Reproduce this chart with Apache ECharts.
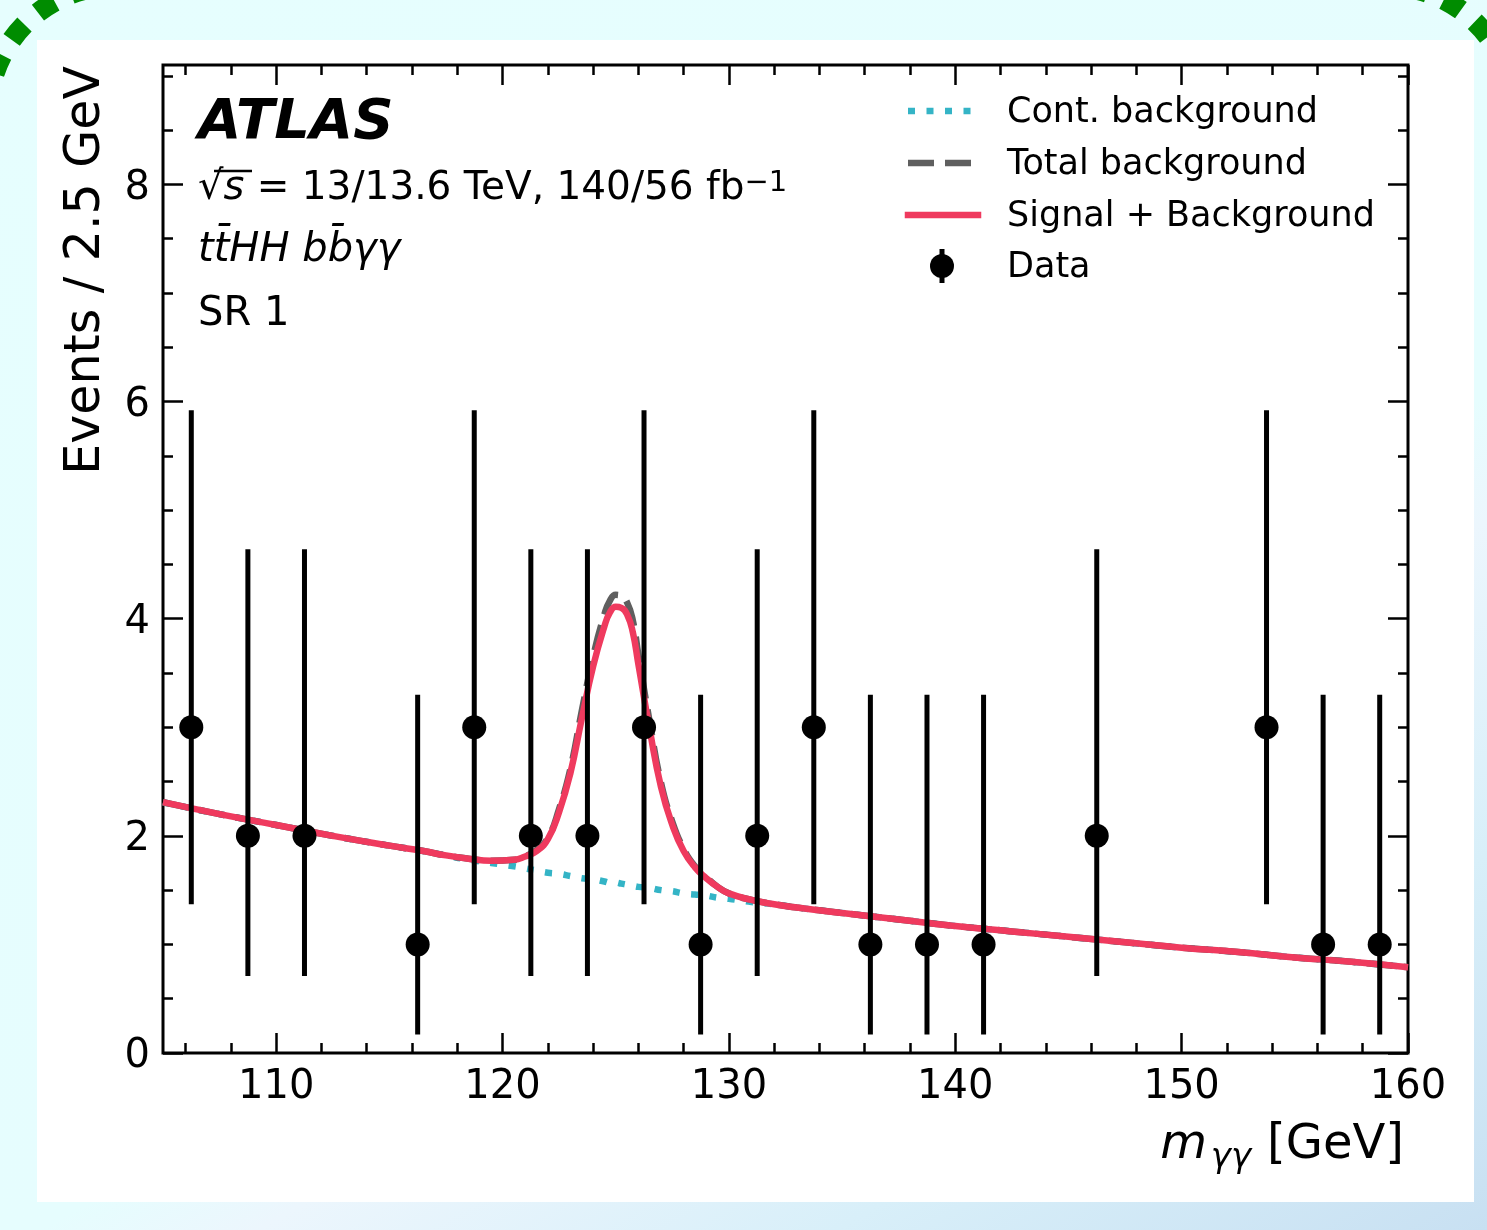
<!DOCTYPE html>
<html>
<head>
<meta charset="utf-8">
<title>ttHH bbγγ — SR 1 diphoton mass</title>
<script src="https://cdn.jsdelivr.net/npm/echarts@6/dist/echarts.min.js"></script>
<style>
  html, body { margin: 0; padding: 0; }
  body {
    width: 1487px; height: 1230px; overflow: hidden; position: relative;
    background: linear-gradient(150deg, #e6fefe 0%, #e6fdfe 60%, #ecf6fd 66%, #d8eff9 82%, #c8e0f2 100%);
  }
  #frame { position: absolute; left: 0; top: 0; width: 1487px; height: 1230px; }
  #panel { position: absolute; left: 37px; top: 40px; width: 1437px; height: 1162px; background: #ffffff; }
  #chart { position: absolute; left: 0; top: 0; width: 1487px; height: 1230px; }
</style>
</head>
<body>
<svg id="frame" width="1487" height="1230">
  <rect x="-12" y="-14" width="1526" height="1400" rx="128" ry="128"
        fill="none" stroke="#008c00" stroke-width="20" stroke-dasharray="20 18"/>
</svg>
<div id="panel"></div>
<div id="chart"></div>
<script>
// Axis ranges and ticks
const xRange = [105, 160];
const yRange = [0, 9.1];
const xMajorTicks = [110, 120, 130, 140, 150, 160];
const xMinorTicks = [106, 108, 112, 114, 116, 118, 122, 124, 126, 128, 132, 134, 136, 138, 142, 144, 146, 148, 152, 154, 156, 158];
const yMajorTicks = [0, 2, 4, 6, 8];
const yMinorTicks = [0.5, 1, 1.5, 2.5, 3, 3.5, 4.5, 5, 5.5, 6.5, 7, 7.5, 8.5, 9];

// Observed events per 2.5 GeV bin (empty bins omitted) with Poisson intervals
const binCenters = [106.25, 108.75, 111.25, 116.25, 118.75, 121.25, 123.75, 126.25, 128.75, 131.25, 133.75, 136.25, 138.75, 141.25, 146.25, 153.75, 156.25, 158.75];
const eventCounts = [3, 2, 2, 1, 3, 2, 2, 3, 1, 2, 3, 1, 1, 1, 2, 3, 1, 1];
const errLow  = [1.37, 0.71, 0.71, 0.17, 1.37, 0.71, 0.71, 1.37, 0.17, 0.71, 1.37, 0.17, 0.17, 0.17, 0.71, 1.37, 0.17, 0.17];
const errHigh = [5.92, 4.64, 4.64, 3.30, 5.92, 4.64, 4.64, 5.92, 3.30, 4.64, 5.92, 3.30, 3.30, 3.30, 4.64, 5.92, 3.30, 3.30];

// Fitted model curves sampled in m_γγ
const curveMass = [105, 107.5, 110, 112.5, 115, 116.5, 117.5, 118.5, 119.5, 120.5,
  121, 121.5, 122, 122.5, 123, 123.5, 124, 124.5, 124.75, 125,
  125.25, 125.5, 125.75, 126, 126.5, 127, 127.5, 128, 128.5, 129,
  129.5, 130, 131, 132, 133, 135, 137.5, 140, 142.5, 145,
  147.5, 150, 152.5, 155, 157.5, 160];
const contBkg = [2.31, 2.20, 2.10, 2.00, 1.91, 1.86, 1.82, 1.78, 1.75, 1.72,
  1.70, 1.68, 1.66, 1.65, 1.63, 1.61, 1.60, 1.58, 1.57, 1.57,
  1.56, 1.55, 1.54, 1.53, 1.52, 1.50, 1.49, 1.47, 1.46, 1.45,
  1.43, 1.42, 1.39, 1.37, 1.34, 1.29, 1.23, 1.17, 1.12, 1.07,
  1.02, 0.97, 0.93, 0.88, 0.84, 0.79];
const totalBkg = [2.31, 2.20, 2.10, 2.00, 1.91, 1.86, 1.82, 1.79, 1.77, 1.78,
  1.81, 1.87, 1.98, 2.25, 2.62, 3.15, 3.65, 4.04, 4.17, 4.22,
  4.21, 4.15, 3.99, 3.67, 3.05, 2.49, 2.13, 1.88, 1.72, 1.62,
  1.53, 1.47, 1.41, 1.37, 1.34, 1.29, 1.23, 1.17, 1.12, 1.07,
  1.02, 0.97, 0.93, 0.88, 0.84, 0.79];
const sigPlusBkg = [2.31, 2.20, 2.10, 2.00, 1.91, 1.86, 1.82, 1.79, 1.77, 1.78,
  1.81, 1.86, 1.97, 2.22, 2.58, 3.08, 3.56, 3.93, 4.06, 4.11,
  4.10, 4.04, 3.88, 3.58, 2.98, 2.45, 2.10, 1.86, 1.71, 1.61,
  1.53, 1.47, 1.41, 1.37, 1.34, 1.29, 1.23, 1.17, 1.12, 1.07,
  1.02, 0.97, 0.93, 0.88, 0.84, 0.79];

const legendNames = ['Cont. background', 'Total background', 'Signal + Background', 'Data'];

const FONT = 'DejaVu Sans';
const COL_CONT = '#34b4c6';
const COL_TOT = '#5f5f5f';
const COL_SIG = '#ef3a5e';

const pairs = (xs, ys) => xs.map((x, i) => [x, ys[i]]);

function makeXAxis(position, ticks, len, labels) {
  return {
    type: 'value', min: xRange[0], max: xRange[1], position: position,
    axisLine: { show: false, onZero: false },
    splitLine: { show: false },
    axisTick: { show: true, inside: true, length: len, customValues: ticks,
      lineStyle: { color: '#000', width: 2.5 } },
    axisLabel: labels ? { show: true, customValues: ticks, margin: 15,
      fontFamily: FONT, fontSize: 40, color: '#000' } : { show: false }
  };
}
function makeYAxis(position, ticks, len, labels) {
  return {
    type: 'value', min: yRange[0], max: yRange[1], position: position,
    axisLine: { show: false, onZero: false },
    splitLine: { show: false },
    axisTick: { show: true, inside: true, length: len, customValues: ticks,
      lineStyle: { color: '#000', width: 2.5 } },
    // short line box, top-anchored, nudges the digits slightly below the tick
    axisLabel: labels ? { show: true, customValues: ticks, margin: 13,
      fontFamily: FONT, fontSize: 40, color: '#000', verticalAlign: 'top', lineHeight: 8 } : { show: false }
  };
}

const chart = echarts.init(document.getElementById('chart'), null, { renderer: 'canvas' });

const legendRows = [111, 163, 215, 266];
const legendGraphics = [
  { type: 'line', shape: { x1: 908, y1: legendRows[0], x2: 978, y2: legendRows[0] },
    style: { stroke: COL_CONT, lineWidth: 6.5, lineDash: [7, 11.5] } },
  { type: 'line', shape: { x1: 908, y1: legendRows[1], x2: 978, y2: legendRows[1] },
    style: { stroke: COL_TOT, lineWidth: 6.5, lineDash: [26, 11] } },
  { type: 'line', shape: { x1: 908, y1: legendRows[2], x2: 978, y2: legendRows[2] },
    style: { stroke: COL_SIG, lineWidth: 6.5, lineCap: 'square' } },
  { type: 'line', shape: { x1: 942, y1: legendRows[3] - 17, x2: 942, y2: legendRows[3] + 17 },
    style: { stroke: '#000', lineWidth: 5 } },
  { type: 'circle', shape: { cx: 942, cy: legendRows[3], r: 12 }, style: { fill: '#000' } }
].concat(legendNames.map((name, i) => ({
  type: 'text', x: 1007, y: legendRows[i] + 2,
  style: { text: name, fontFamily: FONT, fontSize: 35, fill: '#000', align: 'left', verticalAlign: 'middle' }
})));

const labelGraphics = [
  { type: 'text', x: 198, y: 123,
    style: { text: 'ATLAS', fontFamily: FONT, fontSize: 56, fontWeight: 'bold', fontStyle: 'italic',
      fill: '#000', align: 'left', verticalAlign: 'middle' } },
  { type: 'text', x: 198, y: 189,
    style: {
      text: '{r|√}{s|s}{t| = 13/13.6 TeV, 140/56 fb}{sup|−1}',
      fill: '#000', align: 'left', verticalAlign: 'middle',
      rich: {
        r: { fontFamily: FONT, fontSize: 40, lineHeight: 40, verticalAlign: 'middle' },
        s: { fontFamily: FONT, fontSize: 40, fontStyle: 'italic', lineHeight: 40, verticalAlign: 'middle' },
        t: { fontFamily: FONT, fontSize: 39, lineHeight: 40, verticalAlign: 'middle' },
        sup: { fontFamily: FONT, fontSize: 29, lineHeight: 29, verticalAlign: 'top' }
      }
    } },
  { type: 'line', shape: { x1: 214, y1: 171, x2: 252, y2: 171 }, style: { stroke: '#000', lineWidth: 2.5 } },
  { type: 'text', x: 198, y: 251,
    style: { text: 'tt\u0304HH bb\u0304γγ', fontFamily: FONT, fontSize: 40, fontStyle: 'italic',
      fill: '#000', align: 'left', verticalAlign: 'middle' } },
  { type: 'text', x: 198, y: 315,
    style: { text: 'SR 1', fontFamily: FONT, fontSize: 40, fill: '#000', align: 'left', verticalAlign: 'middle' } },
  // axis titles
  { type: 'text', x: 86, y: 66, rotation: Math.PI / 2,
    style: { text: 'Events / 2.5 GeV', fontFamily: FONT, fontSize: 49, fill: '#000',
      align: 'right', verticalAlign: 'middle' } },
  { type: 'text', x: 1404, y: 1146,
    style: { text: '[GeV]', fontFamily: FONT, fontSize: 48, fill: '#000', align: 'right', verticalAlign: 'middle' } },
  { type: 'text', x: 1251, y: 1158,
    style: { text: 'γγ', fontFamily: FONT, fontSize: 34, fontStyle: 'italic', fill: '#000', align: 'right', verticalAlign: 'middle' } },
  { type: 'text', x: 1207, y: 1146,
    style: { text: 'm', fontFamily: FONT, fontSize: 48, fontStyle: 'italic', fill: '#000', align: 'right', verticalAlign: 'middle' } }
];

const option = {
  animation: false,
  backgroundColor: 'transparent',
  grid: { left: 163, top: 65, width: 1245, height: 988, show: true,
    borderColor: '#000', borderWidth: 3, backgroundColor: 'transparent' },
  xAxis: [
    makeXAxis('bottom', xMajorTicks, 20, true),
    makeXAxis('bottom', xMinorTicks, 10, false),
    makeXAxis('top', xMajorTicks, 20, false),
    makeXAxis('top', xMinorTicks, 10, false)
  ],
  yAxis: [
    makeYAxis('left', yMajorTicks, 20, true),
    makeYAxis('left', yMinorTicks, 10, false),
    makeYAxis('right', yMajorTicks, 20, false),
    makeYAxis('right', yMinorTicks, 10, false)
  ],
  series: [
    { name: legendNames[0], type: 'line', xAxisIndex: 0, yAxisIndex: 0, z: 2,
      data: pairs(curveMass, contBkg), symbol: 'none', showSymbol: false, smooth: 0.5,
      lineStyle: { color: COL_CONT, width: 6.5, type: [7, 11.5], cap: 'butt' } },
    { name: legendNames[1], type: 'line', xAxisIndex: 0, yAxisIndex: 0, z: 3,
      data: pairs(curveMass, totalBkg), symbol: 'none', showSymbol: false, smooth: 0.5,
      lineStyle: { color: COL_TOT, width: 6.5, type: [26, 11], cap: 'butt' } },
    { name: legendNames[2], type: 'line', xAxisIndex: 0, yAxisIndex: 0, z: 4,
      data: pairs(curveMass, sigPlusBkg), symbol: 'none', showSymbol: false, smooth: 0.5,
      lineStyle: { color: COL_SIG, width: 6.5 } },
    { name: legendNames[3], type: 'custom', xAxisIndex: 0, yAxisIndex: 0, z: 5,
      data: binCenters.map((x, i) => [x, eventCounts[i], errLow[i], errHigh[i]]),
      encode: { x: 0, y: 1 },
      renderItem: function (params, api) {
        const x = api.value(0);
        const c = api.coord([x, api.value(1)]);
        const lo = api.coord([x, api.value(2)]);
        const hi = api.coord([x, api.value(3)]);
        return { type: 'group', children: [
          { type: 'line', shape: { x1: lo[0], y1: lo[1], x2: hi[0], y2: hi[1] },
            style: { stroke: '#000', lineWidth: 5 } },
          { type: 'circle', shape: { cx: c[0], cy: c[1], r: 12 }, style: { fill: '#000' } }
        ] };
      } }
  ],
  graphic: { elements: legendGraphics.concat(labelGraphics) }
};

chart.setOption(option);
</script>
</body>
</html>
